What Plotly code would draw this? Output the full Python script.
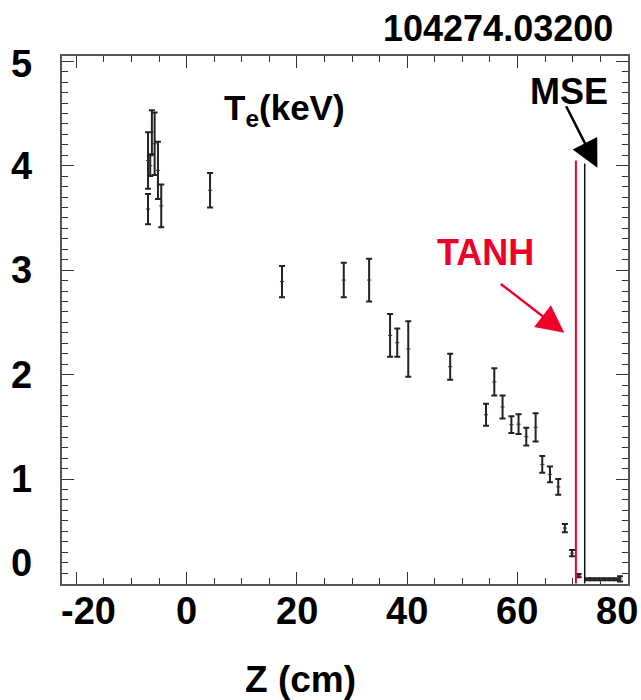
import plotly.graph_objects as go

# Te profile data (Z in cm, Te in keV)
z_vals = [-7.0, -7.0, -6.6, -6.3, -5.8, -5.2, -4.6, 4.25, 17.3, 28.5, 33.1, 36.9, 38.2, 40.2,
          47.8, 54.3, 55.8, 57.3, 58.9, 60.2, 61.6, 63.3, 64.5, 65.9, 67.4, 68.6, 69.9,
          71.1, 72.8, 73.5, 74.4, 75.3, 76.2, 77.1, 78.0, 78.6]
te_hi = [4.32, 3.73, 4.10, 4.53, 4.51, 4.23, 3.82, 3.93, 3.04, 3.07, 3.11, 2.58, 2.44, 2.51,
         2.20, 1.72, 2.06, 1.80, 1.60, 1.62, 1.49, 1.63, 1.22, 1.12, 1.00, 0.57, 0.32,
         0.09, 0.05, 0.05, 0.05, 0.05, 0.05, 0.05, 0.05, 0.07]
te_lo = [3.78, 3.44, 3.90, 4.11, 3.91, 3.68, 3.41, 3.60, 2.74, 2.74, 2.70, 2.17, 2.17, 1.98,
         1.95, 1.51, 1.80, 1.58, 1.44, 1.43, 1.32, 1.36, 1.06, 0.97, 0.85, 0.49, 0.26,
         0.06, 0.03, 0.03, 0.03, 0.03, 0.03, 0.03, 0.03, 0.02]

tanh_z = 70.6
tanh_top = 4.05
mse_z = 72.2
mse_top = 4.02

x_ticks = [-20, 0, 20, 40, 60, 80]
y_ticks = [0, 1, 2, 3, 4, 5]

FONT = "Liberation Sans, Arial, sans-serif"
RED = "rgb(238,0,40)"

te_mid = [(a + b) / 2 for a, b in zip(te_hi, te_lo)]
err_p = [a - m for a, m in zip(te_hi, te_mid)]
err_m = [m - b for b, m in zip(te_lo, te_mid)]

fig = go.Figure()
fig.add_trace(go.Scatter(
    x=z_vals, y=te_mid, mode="markers",
    marker=dict(symbol="line-ew-open", size=3, color="#333", line=dict(width=1, color="#333")),
    error_y=dict(type="data", symmetric=False, array=err_p, arrayminus=err_m,
                 color="#222", thickness=2, width=3),
    showlegend=False, hoverinfo="x+y"))

fig.add_trace(go.Scatter(x=[tanh_z, tanh_z], y=[0, tanh_top], mode="lines",
                         line=dict(color=RED, width=2), showlegend=False))
fig.add_trace(go.Scatter(x=[mse_z, mse_z], y=[0, mse_top], mode="lines",
                         line=dict(color="#111", width=1.5), showlegend=False))

ann = []
bold = lambda s: "<b>" + s + "</b>"
for v in x_ticks:
    shift = 12 if v == x_ticks[0] else (-11 if v == x_ticks[-1] else 0)
    ann.append(dict(x=v, xref="x", y=-0.051, yref="paper", text=bold(str(v)),
                    showarrow=False, xanchor="center", yanchor="middle", xshift=shift,
                    font=dict(size=38, color="black", family=FONT)))
for v in y_ticks:
    shift = 20 if v == y_ticks[0] else (-3 if v == y_ticks[-1] else 0)
    ann.append(dict(x=-0.05, xref="paper", y=v, yref="y", text=bold(str(v)),
                    showarrow=False, xanchor="right", yanchor="middle", yshift=shift,
                    font=dict(size=38, color="black", family=FONT)))

ann += [
    dict(x=0.977, xref="paper", y=1.052, yref="paper", text=bold("104274.03200"),
         showarrow=False, xanchor="right", yanchor="middle",
         font=dict(size=36, color="black", family=FONT)),
    dict(x=0.421, xref="paper", y=-0.18, yref="paper", text=bold("Z (cm)"),
         showarrow=False, xanchor="center", yanchor="middle",
         font=dict(size=37, color="black", family=FONT)),
    dict(x=17.8, y=4.53, xref="x", yref="y", text=bold("T<sub>e</sub>(keV)"),
         showarrow=False, xanchor="center", yanchor="middle",
         font=dict(size=35, color="black", family=FONT)),
    dict(x=69.4, y=4.71, xref="x", yref="y", text=bold("MSE"),
         showarrow=False, xanchor="center", yanchor="middle",
         font=dict(size=36, color="black", family=FONT)),
    dict(x=54.2, y=3.17, xref="x", yref="y", text=bold("TANH"),
         showarrow=False, xanchor="center", yanchor="middle",
         font=dict(size=36, color=RED, family=FONT)),
    dict(x=74.5, y=3.98, xref="x", yref="y", text="", showarrow=True,
         ax=-32, ay=-63, arrowhead=2, arrowsize=2.2, arrowwidth=2.5,
         arrowcolor="black", standoff=0, startstandoff=0),
    dict(x=68.5, y=2.40, xref="x", yref="y", text="", showarrow=True,
         ax=-65, ay=-50, arrowhead=2, arrowsize=2.2, arrowwidth=2.5,
         arrowcolor=RED, standoff=0, startstandoff=0),
]

axis_common = dict(showgrid=False, zeroline=False, showline=True, linecolor="#555",
                   linewidth=1.5, mirror="allticks", ticks="inside", tickcolor="#333",
                   tickwidth=1.2, showticklabels=False)

fig.update_layout(
    width=641, height=700, plot_bgcolor="white", paper_bgcolor="white",
    margin=dict(l=61.5, r=13, t=56, b=116),
    xaxis=dict(range=[-22.6, 80.05], tickvals=x_ticks, ticklen=12,
               minor=dict(dtick=5, ticklen=6, ticks="inside", tickcolor="#333"),
               **axis_common),
    yaxis=dict(range=[-0.005, 5.05], tickvals=y_ticks, ticklen=12,
               minor=dict(dtick=0.1, ticklen=6, ticks="inside", tickcolor="#333"),
               **axis_common),
    annotations=ann,
)

fig.write_html("out.html")
